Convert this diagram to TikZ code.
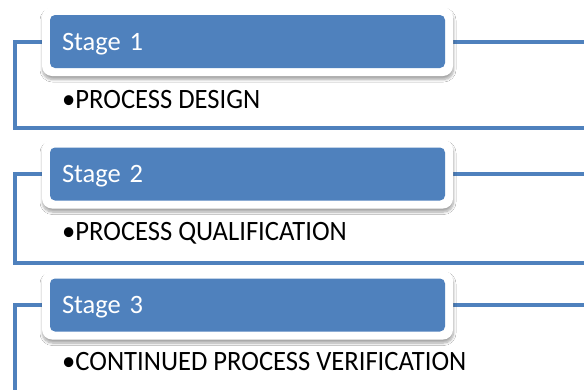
\documentclass[tikz,border=0pt]{standalone}
\usepackage{fontspec}
\setmainfont{Carlito}
\newfontfamily\condensedfont[FakeStretch=0.95]{Carlito}
\usetikzlibrary{shadows.blur}
\definecolor{stageblue}{HTML}{4F81BD}
\begin{document}
\begin{tikzpicture}[x=1pt,y=-1pt,
  frameline/.style={draw=stageblue, line width=3.2pt},
  stageback/.style={fill=white, rounded corners=10pt, minimum width=411pt, minimum height=69pt, inner sep=0pt,
     blur shadow={shadow xshift=0.5pt, shadow yshift=-3.5pt, shadow blur steps=8, shadow blur radius=2.5pt, shadow opacity=35}},
  stagebox/.style={fill=stageblue, rounded corners=5pt, minimum width=395pt, minimum height=53pt,
     inner sep=0pt, inner xsep=12pt, text width=371pt, align=left, text=white,
     font=\fontsize{26.5}{30}\selectfont, text height=20pt, text depth=3pt},
  bullettext/.style={anchor=base west, inner sep=0pt, font=\condensedfont\fontsize{28}{32}\selectfont}
]
\useasboundingbox (0,0) rectangle (584,389);
\clip (0,0) rectangle (584,389);
\fill[white] (0,0) rectangle (584,389);
% frame coordinates
\coordinate (f1r) at (600,42);  \coordinate (f1bl) at (15,128); \coordinate (f1br) at (600,128);
\coordinate (f2r) at (600,174); \coordinate (f2bl) at (15,263); \coordinate (f2br) at (600,263);
\coordinate (f3r) at (600,305); \coordinate (f3bl) at (15,395); \coordinate (f3br) at (600,395);
\draw[frameline] (f1r) -| (f1bl) -- (f1br);
\draw[frameline] (f2r) -| (f2bl) -- (f2br);
\draw[frameline] (f3r) -| (f3bl) -- (f3br);
% stage 1
\node[stageback] (b1) at (247.5,41.5) {};
\node[stagebox] (s1) at (247.5,41.5) {Stage 1};
\node[bullettext] (t1) at (62,108) {•PROCESS DESIGN};
% stage 2
\node[stageback] (b2) at (247.5,174) {};
\node[stagebox] (s2) at (247.5,174) {Stage 2};
\node[bullettext] (t2) at (62,240) {•PROCESS QUALIFICATION};
% stage 3
\node[stageback] (b3) at (247.5,305) {};
\node[stagebox] (s3) at (247.5,305) {Stage 3};
\node[bullettext] (t3) at (62,370) {•CONTINUED PROCESS VERIFICATION};
\end{tikzpicture}
\end{document}
